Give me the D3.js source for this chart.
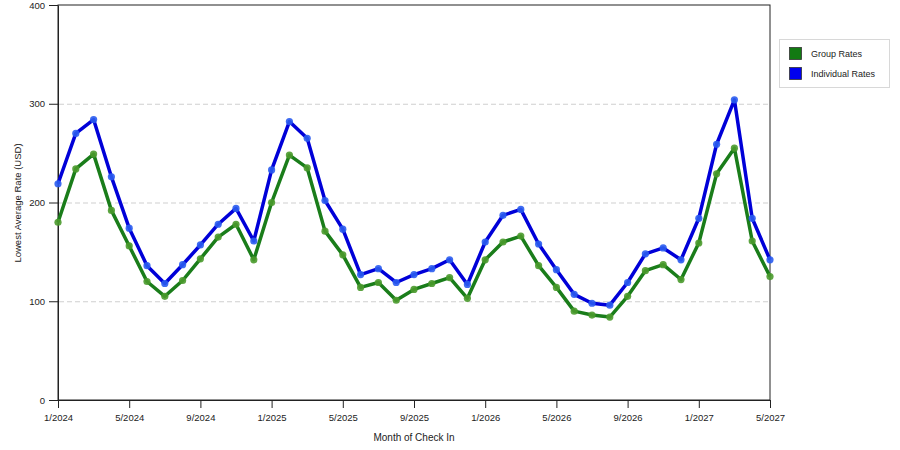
<!DOCTYPE html>
<html>
<head>
<meta charset="utf-8">
<style>
  body { margin: 0; background: #fff; }
  text { font-family: "Liberation Sans", Arial, sans-serif; fill: #222; }
  .tick text { font-size: 9.5px; }
  .axis_label { font-size: 10px; text-anchor: middle; }
  .legend text { font-size: 9px; }
</style>
<title>Lowest Average Rate by Month of Check In</title>
</head>
<body>
<script src="https://cdn.jsdelivr.net/npm/d3@7/dist/d3.min.js"></script>
<script>
  // month categories, one per point
  var months = [
    "1/2024","2/2024","3/2024","4/2024","5/2024","6/2024","7/2024","8/2024","9/2024","10/2024","11/2024","12/2024",
    "1/2025","2/2025","3/2025","4/2025","5/2025","6/2025","7/2025","8/2025","9/2025","10/2025","11/2025","12/2025",
    "1/2026","2/2026","3/2026","4/2026","5/2026","6/2026","7/2026","8/2026","9/2026","10/2026","11/2026","12/2026",
    "1/2027","2/2027","3/2027","4/2027","5/2027"
  ];
  var xTickLabels = ["1/2024","5/2024","9/2024","1/2025","5/2025","9/2025","1/2026","5/2026","9/2026","1/2027","5/2027"];
  var yTicks = [0, 100, 200, 300, 400];

  var groupRates = [
    180, 234, 249, 192, 156, 120, 105, 121, 143, 165, 178, 142,
    200, 248, 235, 171, 147, 114, 119, 101, 112, 118, 124, 103,
    142, 160, 166, 136, 114, 90, 86, 84, 105, 131, 137, 122,
    159, 229, 255, 161, 125
  ];
  var individualRates = [
    219, 270, 284, 226, 174, 136, 118, 137, 157, 178, 194, 161,
    233, 282, 265, 202, 173, 127, 133, 119, 127, 133, 142, 117,
    160, 187, 193, 158, 132, 107, 98, 96, 119, 148, 154, 142,
    184, 259, 304, 184, 142
  ];

  var seriesNames = ["Group Rates", "Individual Rates"];
  var lineColors = ["#1a7d1a", "#0000d8"];
  var markerColors = ["#4a9a2c", "#2a5cf0"];
  var swatchColors = ["#127a12", "#0000f0"];

  // define the dimensions and plot edges
  var width = 900, height = 450;
  var plot = { left: 58, right: 770, top: 5, bottom: 400 };

  var x = d3.scalePoint().domain(months).range([plot.left, plot.right]);
  var y = d3.scaleLinear().domain([0, 400]).range([plot.bottom, plot.top]);

  var svg = d3.select("body").append("svg")
    .attr("width", width)
    .attr("height", height);

  // frame
  svg.append("rect")
    .attr("x", plot.left).attr("y", plot.top)
    .attr("width", plot.right - plot.left).attr("height", plot.bottom - plot.top)
    .attr("fill", "#fff")
    .attr("stroke", "#222")
    .attr("stroke-width", 1);

  // dashed gridlines
  svg.append("g")
    .selectAll("line")
    .data(yTicks.filter(function(d) { return d > 0 && d < 400; }))
    .enter()
    .append("line")
    .attr("x1", plot.left + 1).attr("x2", plot.right - 1)
    .attr("y1", function(d) { return y(d) + 0.5; })
    .attr("y2", function(d) { return y(d) + 0.5; })
    .attr("stroke", "#cfcfcf")
    .attr("stroke-dasharray", "5,3");

  // axes
  svg.append("g")
    .attr("class", "axis")
    .attr("transform", "translate(0," + plot.bottom + ")")
    .call(d3.axisBottom(x).tickValues(xTickLabels).tickSize(8).tickPadding(6).tickSizeOuter(0))
    .call(function(g) { g.selectAll("path, line").attr("stroke", "#222"); });

  svg.append("g")
    .attr("class", "axis")
    .attr("transform", "translate(" + plot.left + ",0)")
    .call(d3.axisLeft(y).tickValues(yTicks).tickSize(9).tickPadding(4).tickSizeOuter(0))
    .call(function(g) { g.selectAll("path, line").attr("stroke", "#222"); });

  // lines and markers
  var allSeries = [groupRates, individualRates];
  var line = d3.line()
    .x(function(d, i) { return x(months[i]); })
    .y(function(d) { return y(d); });

  allSeries.forEach(function(values, s) {
    svg.append("path")
      .datum(values)
      .attr("fill", "none")
      .attr("stroke", lineColors[s])
      .attr("stroke-width", 3.5)
      .attr("stroke-linejoin", "round")
      .attr("d", line);

    svg.append("g")
      .selectAll("circle")
      .data(values)
      .enter()
      .append("circle")
      .attr("cx", function(d, i) { return x(months[i]); })
      .attr("cy", function(d) { return y(d); })
      .attr("r", 3.6)
      .attr("fill", markerColors[s])
      .attr("fill-opacity", 0.9);
  });

  // axis titles
  svg.append("text")
    .attr("class", "axis_label")
    .attr("x", 414)
    .attr("y", 441)
    .text("Month of Check In");

  svg.append("text")
    .attr("class", "axis_label")
    .attr("transform", "translate(21,203) rotate(-90)")
    .style("font-size", "9.5px")
    .text("Lowest Average Rate (USD)");

  // legend
  var legend = svg.append("g").attr("class", "legend");
  legend.append("rect")
    .attr("x", 779.5).attr("y", 39.5)
    .attr("width", 110).attr("height", 48)
    .attr("fill", "#fff")
    .attr("stroke", "#d8d8d8");

  seriesNames.forEach(function(name, i) {
    legend.append("rect")
      .attr("x", 789.5).attr("y", 47.5 + i * 20)
      .attr("width", 12).attr("height", 12)
      .attr("fill", swatchColors[i])
      .attr("stroke", "#333")
      .attr("stroke-width", 0.8);
    legend.append("text")
      .attr("x", 811)
      .attr("y", 57 + i * 20)
      .text(name);
  });
</script>
</body>
</html>
